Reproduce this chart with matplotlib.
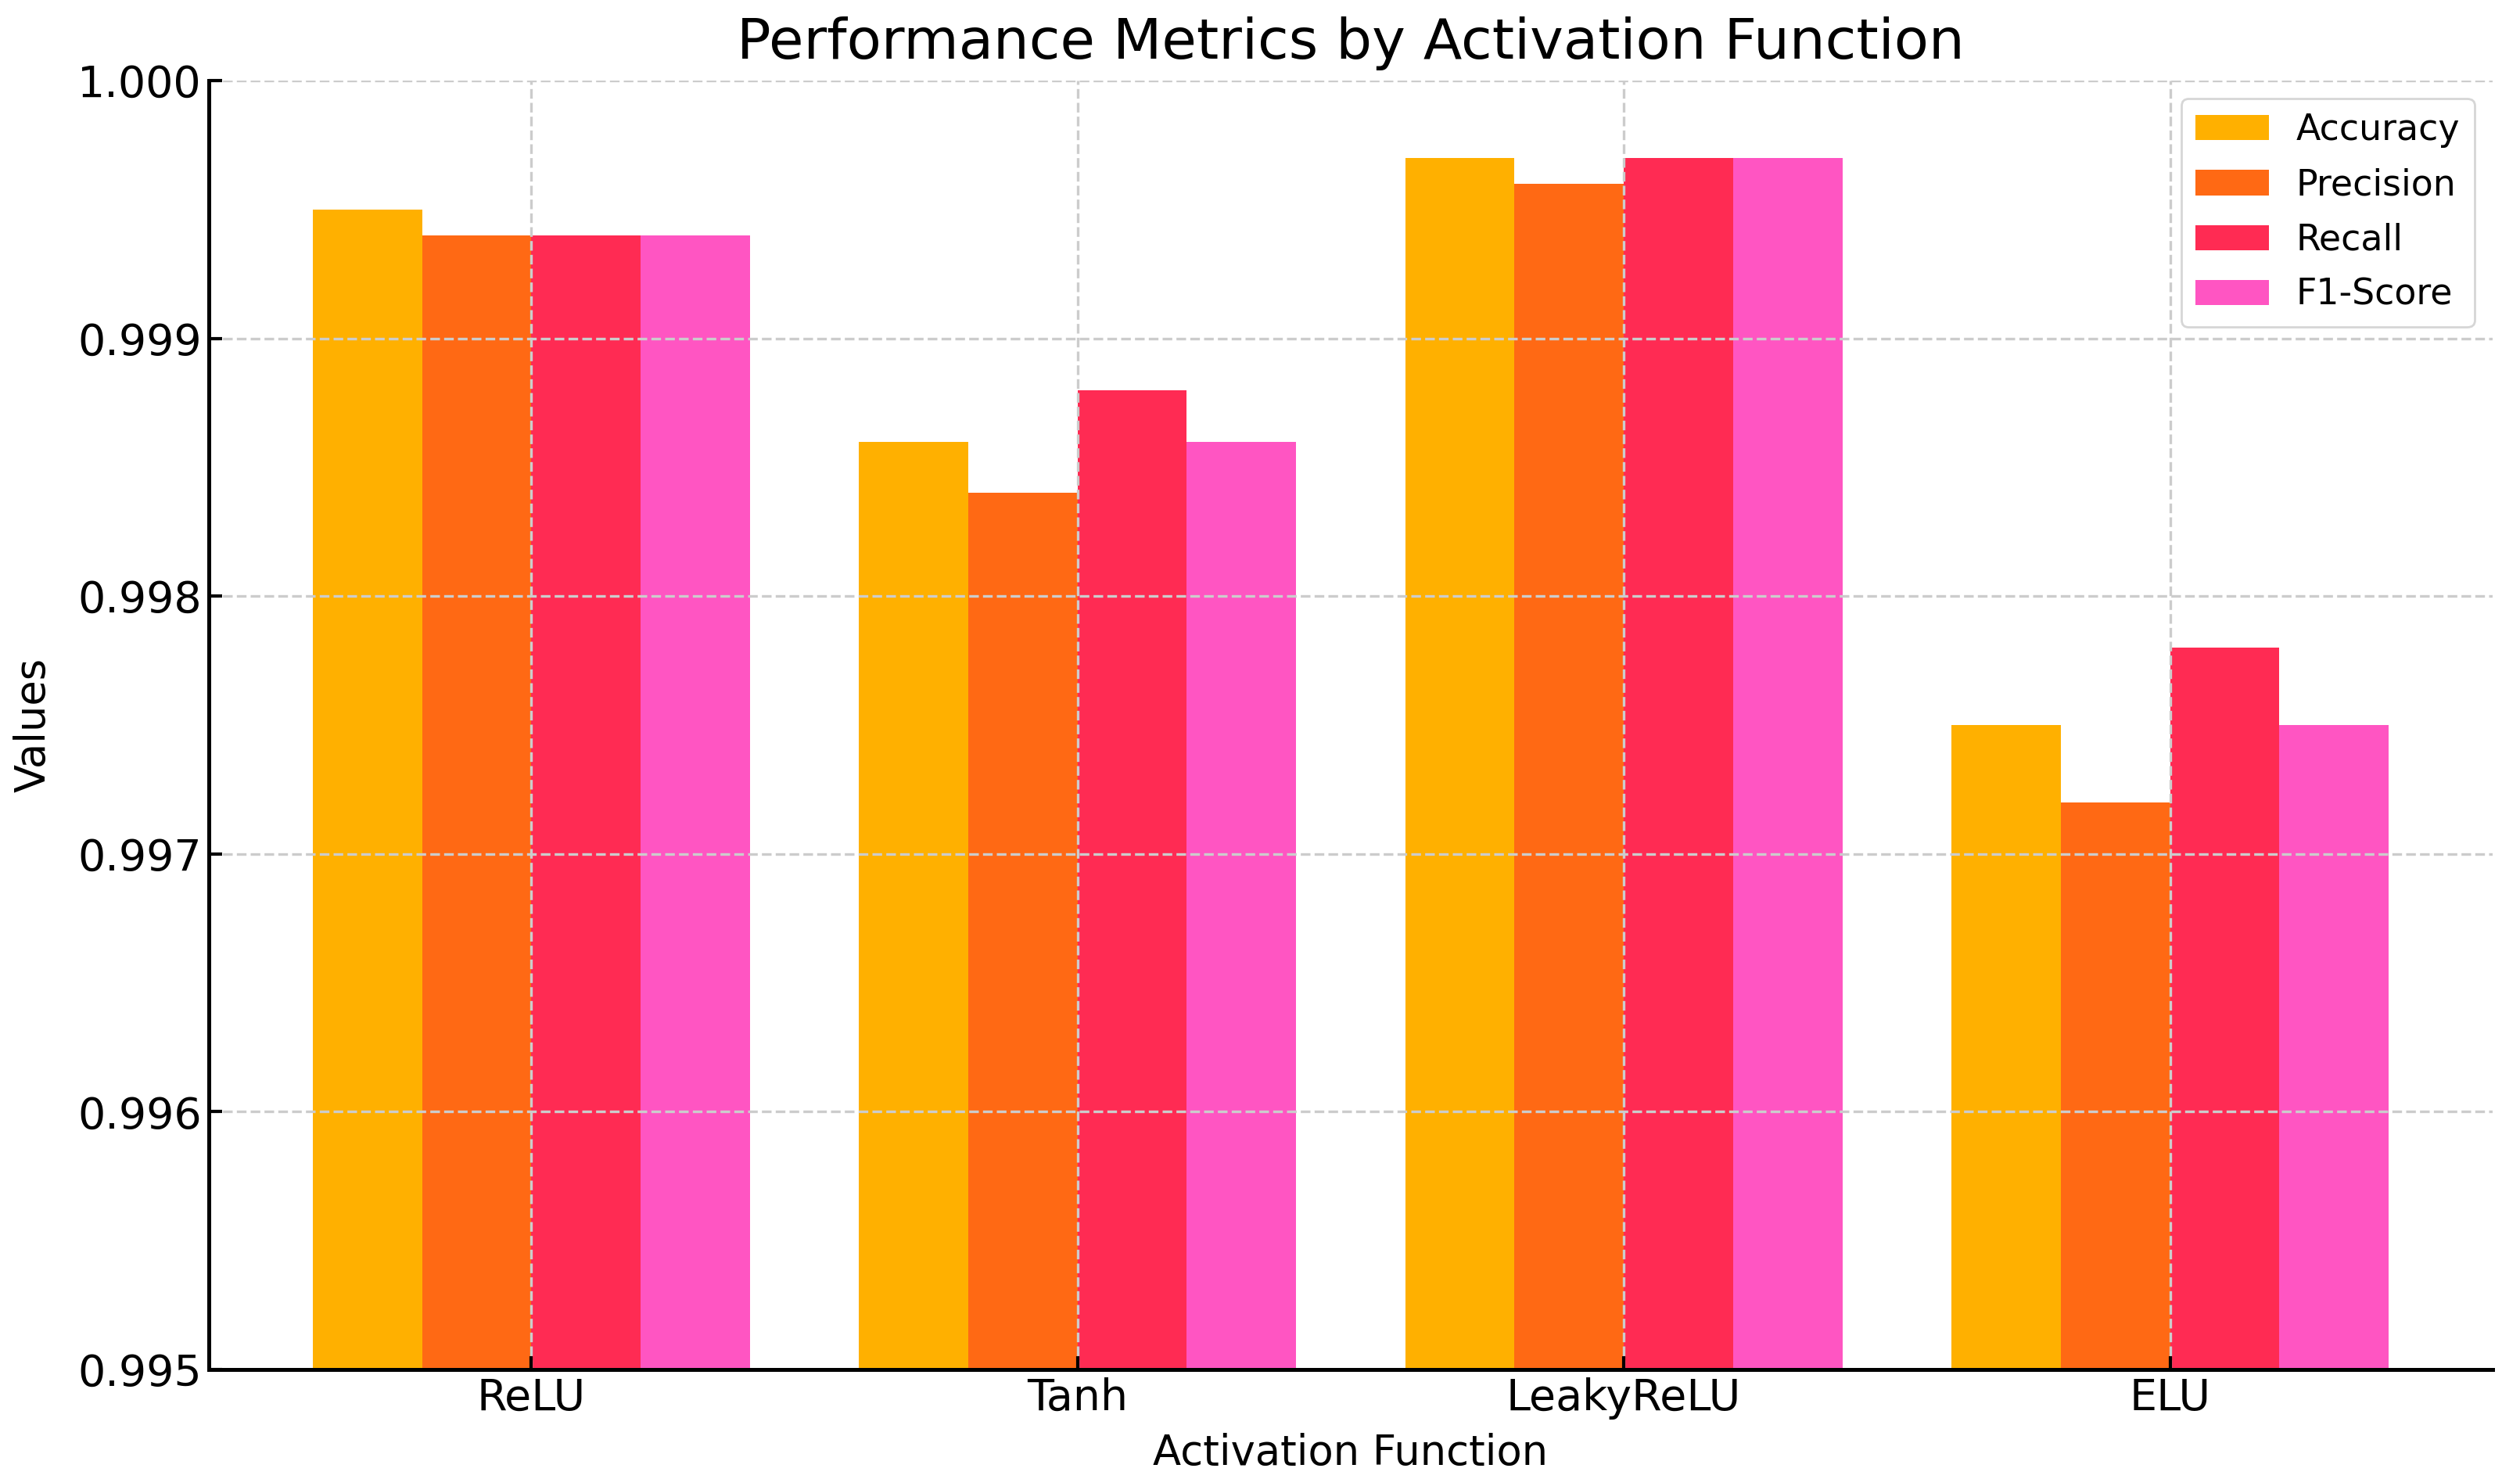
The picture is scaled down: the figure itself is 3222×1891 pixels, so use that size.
import numpy as np
import matplotlib
matplotlib.use('Agg')
import matplotlib.pyplot as plt

# Dados
funcoes = ["ReLU", "Tanh", "LeakyReLU", "ELU"]
metricas = ["Accuracy", "Precision", "Recall", "F1-Score"]
accuracy = [0.9995, 0.9986, 0.9997, 0.9975]
precision = [0.9994, 0.9984, 0.9996, 0.9972]
recall = [0.9994, 0.9988, 0.9997, 0.9978]
f1_score = [0.9994, 0.9986, 0.9997, 0.9975]
cores = ["#FFB000", "#FF6914", "#FF2B53", "#FF55C2"]

valores = [accuracy, precision, recall, f1_score]

fig, ax = plt.subplots(figsize=(16.11, 9.455), dpi=200)
fig.subplots_adjust(left=0.083, right=0.989, bottom=0.074, top=0.9455)

x = np.arange(len(funcoes))
largura = 0.2
for i, (nome, vals, cor) in enumerate(zip(metricas, valores, cores)):
    ax.bar(x + (i - 1.5) * largura, vals, largura, label=nome, color=cor)

ax.set_ylim(0.995, 1.0)
ax.set_xticks(x)
ax.set_xticklabels(funcoes)
ax.set_yticks([0.995, 0.996, 0.997, 0.998, 0.999, 1.000])
ax.yaxis.set_major_formatter(matplotlib.ticker.FormatStrFormatter('%.3f'))
ax.tick_params(axis='both', labelsize=20, direction='in', length=6, width=1.5)

ax.set_title("Performance Metrics by Activation Function", fontsize=26, pad=10)
ax.set_xlabel("Activation Function", fontsize=19, labelpad=6)
ax.set_ylabel("Values", fontsize=19, labelpad=11)

ax.grid(True, linestyle='--', color='#cccccc', linewidth=1.2)
ax.spines['top'].set_visible(False)
ax.spines['right'].set_visible(False)
ax.spines['left'].set_linewidth(1.8)
ax.spines['bottom'].set_linewidth(1.8)

leg = ax.legend(loc='upper right', fontsize=16.5, frameon=True, fancybox=True,
                edgecolor='#cccccc', handlelength=2.05, handletextpad=0.75,
                labelspacing=0.55)

fig.savefig("out.png", dpi=200)
